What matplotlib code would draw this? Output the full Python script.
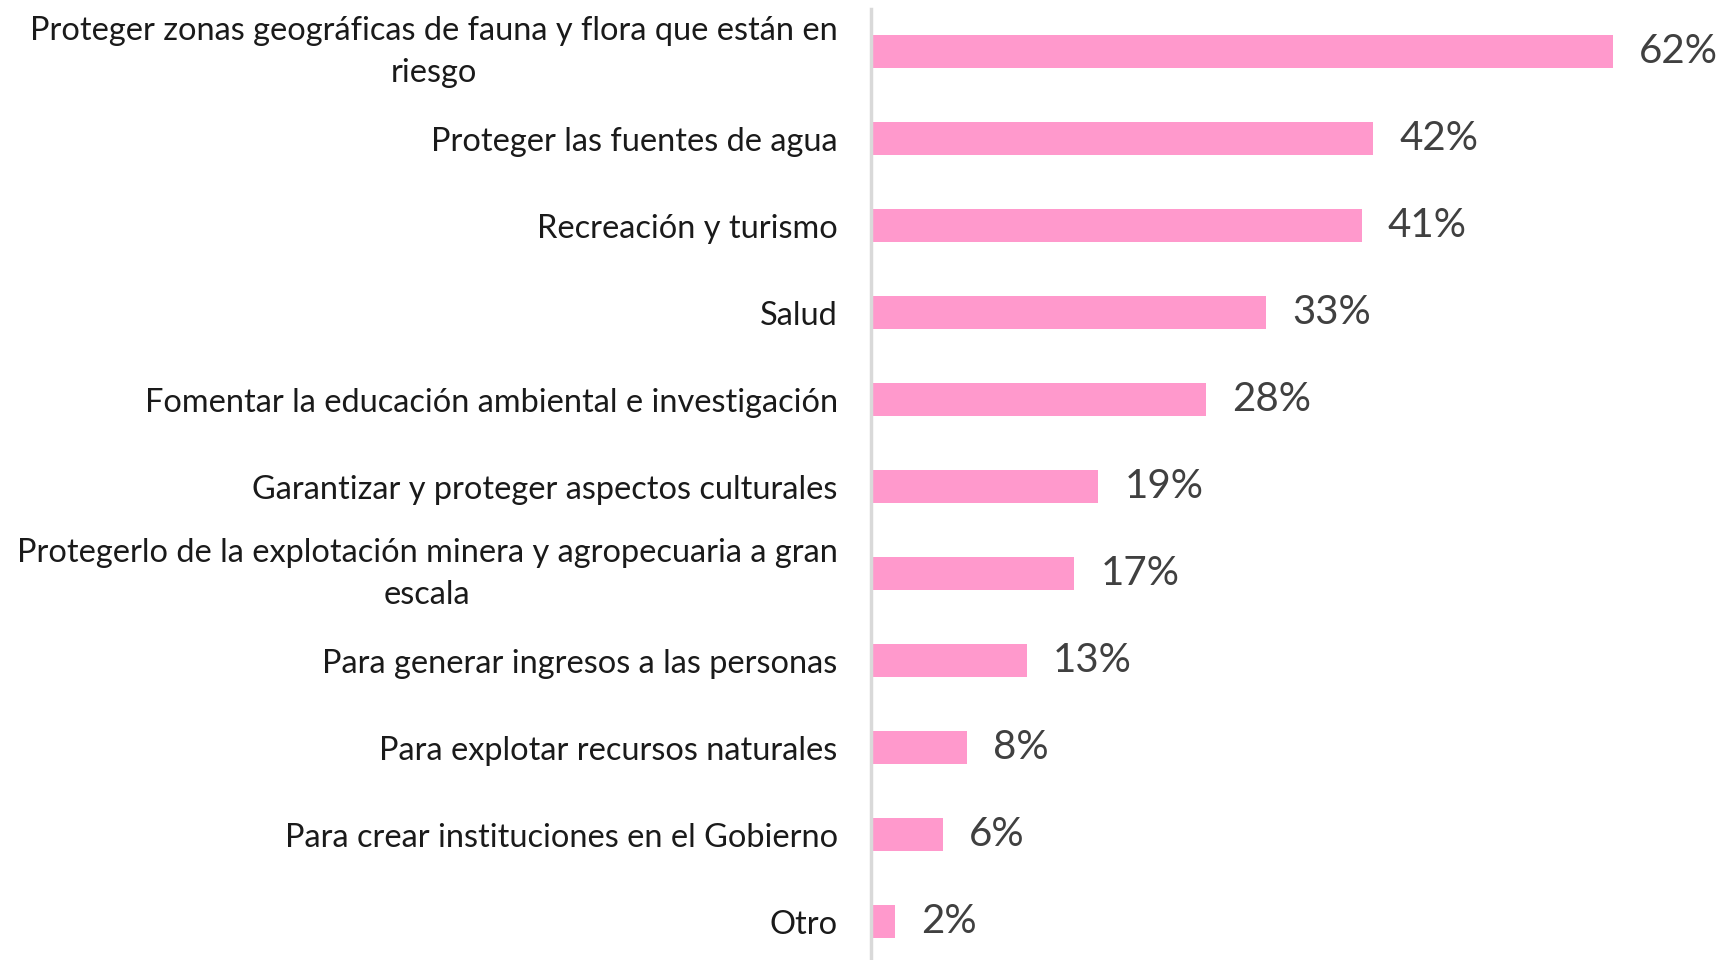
import matplotlib
matplotlib.use("Agg")
import matplotlib.pyplot as plt

# Datos
categorias = [
    "Proteger zonas geográficas de fauna y flora que están en\nriesgo",
    "Proteger las fuentes de agua",
    "Recreación y turismo",
    "Salud",
    "Fomentar la educación ambiental e investigación",
    "Garantizar y proteger aspectos culturales",
    "Protegerlo de la explotación minera y agropecuaria a gran\nescala",
    "Para generar ingresos a las personas",
    "Para explotar recursos naturales",
    "Para crear instituciones en el Gobierno",
    "Otro",
]
valores = [62, 42, 41, 33, 28, 19, 17, 13, 8, 6, 2]

plt.rcParams['font.family'] = ['Lato', 'DejaVu Sans']

fig = plt.figure(figsize=(17.3, 9.6), dpi=100)
ax = fig.add_axes([871 / 1730, 0.0, 1 - 871 / 1730, 1 - 9 / 960])

pos = list(range(len(categorias)))
ax.barh(pos, valores, height=0.38, color='#FF99CC')

for y, v in zip(pos, valores):
    ax.text(v + 2.2, y, f"{v}%", va='center', ha='left',
            fontsize=29, color='#404040')

ax.set_xlim(0, 71.8)
ax.set_ylim(10.44, -0.49)
ax.set_yticks(pos)
ax.set_yticklabels(categorias, fontsize=23.4, color='#1a1a1a')
for lbl in ax.get_yticklabels():
    lbl.set_multialignment('center')
    lbl.set_linespacing(1.5)
    if '\n' in lbl.get_text():
        lbl.set_va('center')
ax.tick_params(axis='y', length=0, pad=24)
ax.set_xticks([])

for s in ['top', 'right', 'bottom']:
    ax.spines[s].set_visible(False)
ax.spines['left'].set_color('#D9D9D9')
ax.spines['left'].set_linewidth(2.5)

fig.savefig("out.png", dpi=100)
